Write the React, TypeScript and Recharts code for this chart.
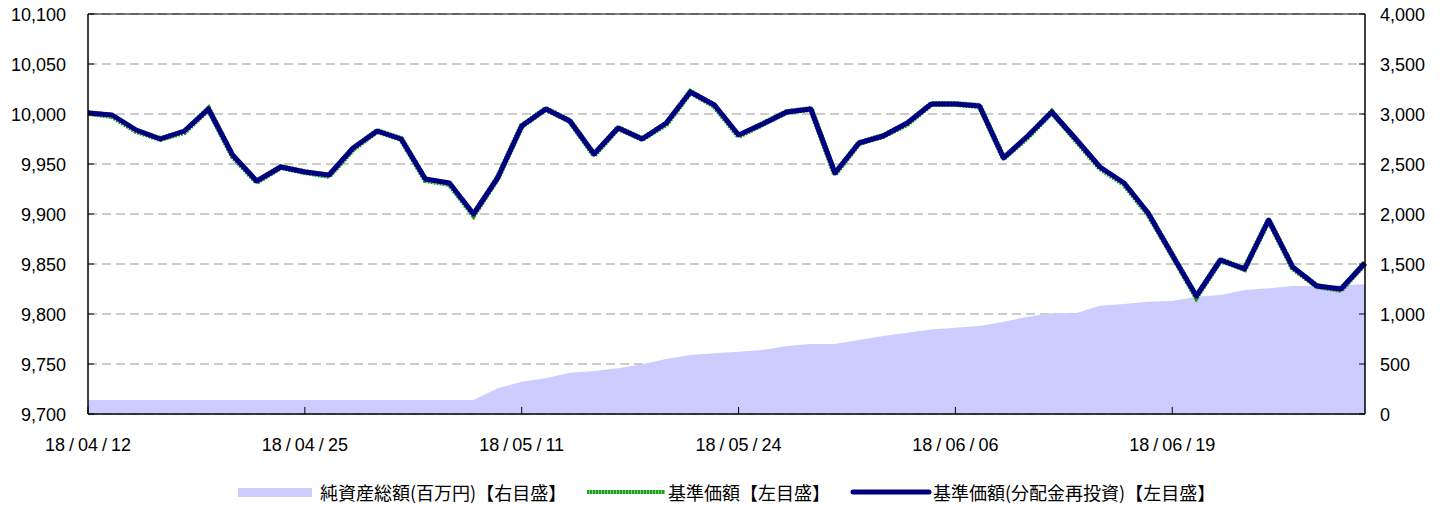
import React from 'react';
import { ComposedChart, Area, Line, XAxis, YAxis, CartesianGrid, ReferenceLine } from 'recharts';

const dates: string[] = [
  '18/04/12', '18/04/13', '18/04/16', '18/04/17', '18/04/18', '18/04/19', '18/04/20', '18/04/23', '18/04/24', '18/04/25', '18/04/26', '18/04/27',
  '18/05/01', '18/05/02', '18/05/07', '18/05/08', '18/05/09', '18/05/10', '18/05/11', '18/05/14', '18/05/15', '18/05/16', '18/05/17', '18/05/18',
  '18/05/21', '18/05/22', '18/05/23', '18/05/24', '18/05/25', '18/05/28', '18/05/29', '18/05/30', '18/05/31',
  '18/06/01', '18/06/04', '18/06/05', '18/06/06', '18/06/07', '18/06/08', '18/06/11', '18/06/12', '18/06/13', '18/06/14', '18/06/15',
  '18/06/18', '18/06/19', '18/06/20', '18/06/21', '18/06/22', '18/06/25', '18/06/26', '18/06/27', '18/06/28', '18/06/29',
];

const netAssets: number[] = [
  140, 140, 140, 140, 140, 140, 140, 140, 140, 140, 140, 140,
  140, 140, 140, 140, 140, 257, 323, 357, 413, 430, 457, 497,
  550, 590, 607, 623, 640, 680, 700, 700, 740,
  780, 813, 845, 863, 880, 923, 973, 1007, 1007, 1083, 1100,
  1123, 1130, 1173, 1190, 1240, 1257, 1280, 1280, 1287, 1297,
];

const basePrice: number[] = [
  10001, 9998, 9983, 9975, 9982, 10005, 9958, 9932, 9947, 9942, 9938, 9965,
  9983, 9975, 9934, 9930, 9899, 9936, 9988, 10005, 9993, 9959, 9986, 9975,
  9990, 10022, 10008, 9978, 9990, 10002, 10005, 9940, 9971,
  9978, 9990, 10010, 10010, 10008, 9956, 9977, 10002, 9974, 9946, 9930,
  9900, 9859, 9817, 9854, 9845, 9894, 9846, 9828, 9824, 9851,
];

const reinvestedPrice: number[] = [
  10001, 9999, 9984, 9975, 9983, 10005, 9959, 9933, 9947, 9942, 9939, 9966,
  9983, 9975, 9935, 9931, 9900, 9936, 9988, 10005, 9993, 9960, 9986, 9975,
  9991, 10022, 10009, 9979, 9990, 10002, 10005, 9941, 9971,
  9978, 9991, 10010, 10010, 10008, 9956, 9978, 10002, 9975, 9947, 9931,
  9901, 9859, 9818, 9854, 9845, 9894, 9847, 9828, 9825, 9851,
];

const xTicks: string[] = ['18/04/12', '18/04/25', '18/05/11', '18/05/24', '18/06/06', '18/06/19'];
const leftTicks: number[] = [9700, 9750, 9800, 9850, 9900, 9950, 10000, 10050, 10100];
const rightTicks: number[] = [0, 500, 1000, 1500, 2000, 2500, 3000, 3500, 4000];

const legendLabels = {
  netAssets: '純資産総額(百万円)【右目盛】',
  basePrice: '基準価額【左目盛】',
  reinvestedPrice: '基準価額(分配金再投資)【左目盛】',
};

const data = dates.map((d, i) => ({
  date: d,
  netAssets: netAssets[i],
  basePrice: basePrice[i],
  reinvestedPrice: reinvestedPrice[i],
}));

const FONT = '"Liberation Sans", Arial, sans-serif';
const CJK = '"Noto Sans CJK JP", "Noto Sans", sans-serif';
const fmt = (v: number) => v.toLocaleString('en-US');

const XTick = (props: any) => {
  const { x, y, payload } = props;
  const parts = String(payload.value).split('/');
  return (
    <g>
      <line x1={x} y1={y} x2={x} y2={y - 7} stroke="#000" strokeWidth={1} />
      <text x={x} y={y + 37} textAnchor="middle" fontSize={18} fontFamily={FONT} fill="#000">
        {parts.map((p, i) => (
          <React.Fragment key={i}>
            {i > 0 && <tspan dx={4}>/</tspan>}
            <tspan dx={i > 0 ? 4 : 0}>{p}</tspan>
          </React.Fragment>
        ))}
      </text>
    </g>
  );
};

const LeftTick = (props: any) => {
  const { x, y, payload } = props;
  return (
    <g>
      <line x1={x} y1={y} x2={x + 6} y2={y} stroke="#000" strokeWidth={1} />
      <text x={x - 22} y={y + 6.5} textAnchor="end" fontSize={18} fontFamily={FONT} fill="#000">
        {fmt(payload.value)}
      </text>
    </g>
  );
};

const RightTick = (props: any) => {
  const { x, y, payload } = props;
  return (
    <g>
      <line x1={x - 6} y1={y} x2={x} y2={y} stroke="#000" strokeWidth={1} />
      <text x={x + 15} y={y + 6.5} textAnchor="start" fontSize={18} fontFamily={FONT} fill="#000">
        {fmt(payload.value)}
      </text>
    </g>
  );
};

export default function App() {
  const legendText: React.CSSProperties = {
    position: 'absolute',
    top: 482,
    fontSize: 18,
    lineHeight: '20px',
    fontFamily: CJK,
    color: '#000',
    whiteSpace: 'nowrap',
  };
  return (
    <div style={{ position: 'absolute', left: 0, top: 0, width: 1442, height: 506, background: '#fff' }}>
      <ComposedChart width={1442} height={460} data={data} margin={{ top: 14, right: 0, bottom: 0, left: 0 }}>
        <CartesianGrid yAxisId="left" vertical={false} stroke="#999" strokeDasharray="9 5" />
        <XAxis
          dataKey="date"
          scale="point"
          padding={{ left: 0, right: 0 }}
          ticks={xTicks}
          interval={0}
          tickLine={false}
          tickSize={0}
          tickMargin={0}
          height={46}
          axisLine={{ stroke: '#000', strokeWidth: 1.5 }}
          tick={(p: any) => <XTick {...p} />}
        />
        <YAxis
          yAxisId="left"
          domain={[9700, 10100]}
          ticks={leftTicks}
          interval={0}
          width={88}
          tickLine={false}
          tickSize={0}
          tickMargin={0}
          axisLine={{ stroke: '#000', strokeWidth: 1.5 }}
          tick={(p: any) => <LeftTick {...p} />}
        />
        <YAxis
          yAxisId="right"
          orientation="right"
          domain={[0, 4000]}
          ticks={rightTicks}
          interval={0}
          width={77}
          tickLine={false}
          tickSize={0}
          tickMargin={0}
          axisLine={{ stroke: '#000', strokeWidth: 1.5 }}
          tick={(p: any) => <RightTick {...p} />}
        />
        <Area
          yAxisId="right"
          type="linear"
          dataKey="netAssets"
          fill="#CCCCFF"
          fillOpacity={1}
          stroke="none"
          dot={false}
          activeDot={false}
          isAnimationActive={false}
        />
        <ReferenceLine yAxisId="left" y={10100} stroke="#000" strokeWidth={1} />
        <Line
          yAxisId="left"
          type="linear"
          dataKey="basePrice"
          stroke="#1E9E1E"
          strokeWidth={6}
          strokeDasharray="2 1"
          dot={false}
          activeDot={false}
          isAnimationActive={false}
        />
        <Line
          yAxisId="left"
          type="linear"
          dataKey="reinvestedPrice"
          stroke="#000080"
          strokeWidth={5}
          strokeLinejoin="round"
          dot={false}
          activeDot={false}
          isAnimationActive={false}
        />
      </ComposedChart>

      <div style={{ position: 'absolute', left: 238, top: 488, width: 74, height: 9, background: '#CCCCFF' }} />
      <div style={{ ...legendText, left: 320 }}>{legendLabels.netAssets}</div>

      <svg style={{ position: 'absolute', left: 587, top: 487 }} width={78} height={10}>
        <line x1={0} y1={5} x2={78} y2={5} stroke="#7fcf7f" strokeWidth={4} />
        <line x1={0} y1={5} x2={78} y2={5} stroke="#1E9E1E" strokeWidth={4} strokeDasharray="2 1" />
      </svg>
      <div style={{ ...legendText, left: 668 }}>{legendLabels.basePrice}</div>

      <svg style={{ position: 'absolute', left: 850, top: 487 }} width={82} height={10}>
        <line x1={3} y1={5} x2={79} y2={5} stroke="#000080" strokeWidth={5} strokeLinecap="round" />
      </svg>
      <div style={{ ...legendText, left: 933 }}>{legendLabels.reinvestedPrice}</div>
    </div>
  );
}
